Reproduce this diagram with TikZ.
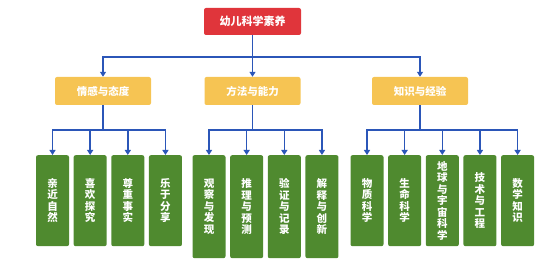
\documentclass[tikz,border=0pt]{standalone}
\usepackage{fontspec}
\setmainfont{Noto Sans CJK SC}
\usetikzlibrary{arrows.meta,positioning}
\definecolor{rootred}{HTML}{E0353B}
\definecolor{midyellow}{HTML}{F6C453}
\definecolor{leafgreen}{HTML}{4F8A2F}
\definecolor{linkblue}{HTML}{2B56B8}
\tikzset{
  rootbox/.style ={fill=rootred, rounded corners=2pt, text=white, font=\fontsize{11}{12}\selectfont\bfseries,
                   minimum width=97pt, minimum height=27pt, inner sep=0pt},
  midbox/.style  ={fill=midyellow, rounded corners=2pt, text=white, font=\fontsize{10.5}{12}\selectfont\bfseries,
                   minimum width=96pt, minimum height=28pt, inner sep=0pt},
  leafbox/.style ={fill=leafgreen, rounded corners=2pt, text=white, align=center,
                   font=\fontsize{10.5}{11.5}\selectfont\bfseries,
                   minimum width=33pt, minimum height=91pt, inner sep=0pt, anchor=north},
  tallbox/.style ={leafbox, minimum height=103pt},
  ln/.style      ={draw=linkblue, line width=1.4pt},
  ar/.style      ={ln, -{Triangle[length=5pt, width=6pt]}},
}
\begin{document}
\begin{tikzpicture}[x=1pt, y=-1pt, node distance=4.25pt]
\useasboundingbox (0,0) rectangle (549,267);
% top level
\node[rootbox] (root) at (252.5,21.5) {幼儿科学素养};
% second level
\node[midbox] (emo) at (103,91) {情感与态度};
\node[midbox] (way) at (252.5,91) {方法与能力};
\node[midbox] (know) at (420,91) {知识与经验};
% leaves
\node[leafbox] (e1) at (52.5,155) {亲\\近\\自\\然};
\node[leafbox, right=of e1.north east, anchor=north west] (e2) {喜\\欢\\探\\究};
\node[leafbox, right=of e2.north east, anchor=north west] (e3) {尊\\重\\事\\实};
\node[leafbox, right=of e3.north east, anchor=north west] (e4) {乐\\于\\分\\享};
\node[tallbox] (w1) at (209,155) {观\\察\\与\\发\\现};
\node[tallbox, right=of w1.north east, anchor=north west] (w2) {推\\理\\与\\预\\测};
\node[tallbox, right=of w2.north east, anchor=north west] (w3) {验\\证\\与\\记\\录};
\node[tallbox, right=of w3.north east, anchor=north west] (w4) {解\\释\\与\\创\\新};
\node[leafbox] (k1) at (367,155) {物\\质\\科\\学};
\node[leafbox, right=of k1.north east, anchor=north west] (k2) {生\\命\\科\\学};
\node[leafbox, right=of k2.north east, anchor=north west] (k3) {地\\球\\与\\宇\\宙\\科\\学};
\node[leafbox, right=of k3.north east, anchor=north west] (k4) {技\\术\\与\\工\\程};
\node[leafbox, right=of k4.north east, anchor=north west] (k5) {数\\学\\知\\识};
% bus points
\coordinate (b0) at (252.5,57);
\coordinate (b1) at (103,130);
\coordinate (b2) at (252.5,130);
\coordinate (b3) at (420,130);
% links
\draw[ln] (root.south) -- (b0);
\draw[ar] (b0) -| (emo.north); \draw[ar] (b0) -- (way.north); \draw[ar] (b0) -| (know.north);
\draw[ln] (emo.south) -- (b1);
\draw[ar] (b1) -| (e1.north); \draw[ar] (b1) -| (e2.north);
\draw[ar] (b1) -| (e3.north); \draw[ar] (b1) -| (e4.north);
\draw[ln] (way.south) -- (b2);
\draw[ar] (b2) -| (w1.north); \draw[ar] (b2) -| (w2.north);
\draw[ar] (b2) -| (w3.north); \draw[ar] (b2) -| (w4.north);
\draw[ln] (know.south) -- (b3);
\draw[ar] (b3) -| (k1.north); \draw[ar] (b3) -| (k2.north);
\draw[ar] (b3) -| (k3.north); \draw[ar] (b3) -| (k4.north);
\draw[ar] (b3) -| (k5.north);
\end{tikzpicture}
\end{document}
